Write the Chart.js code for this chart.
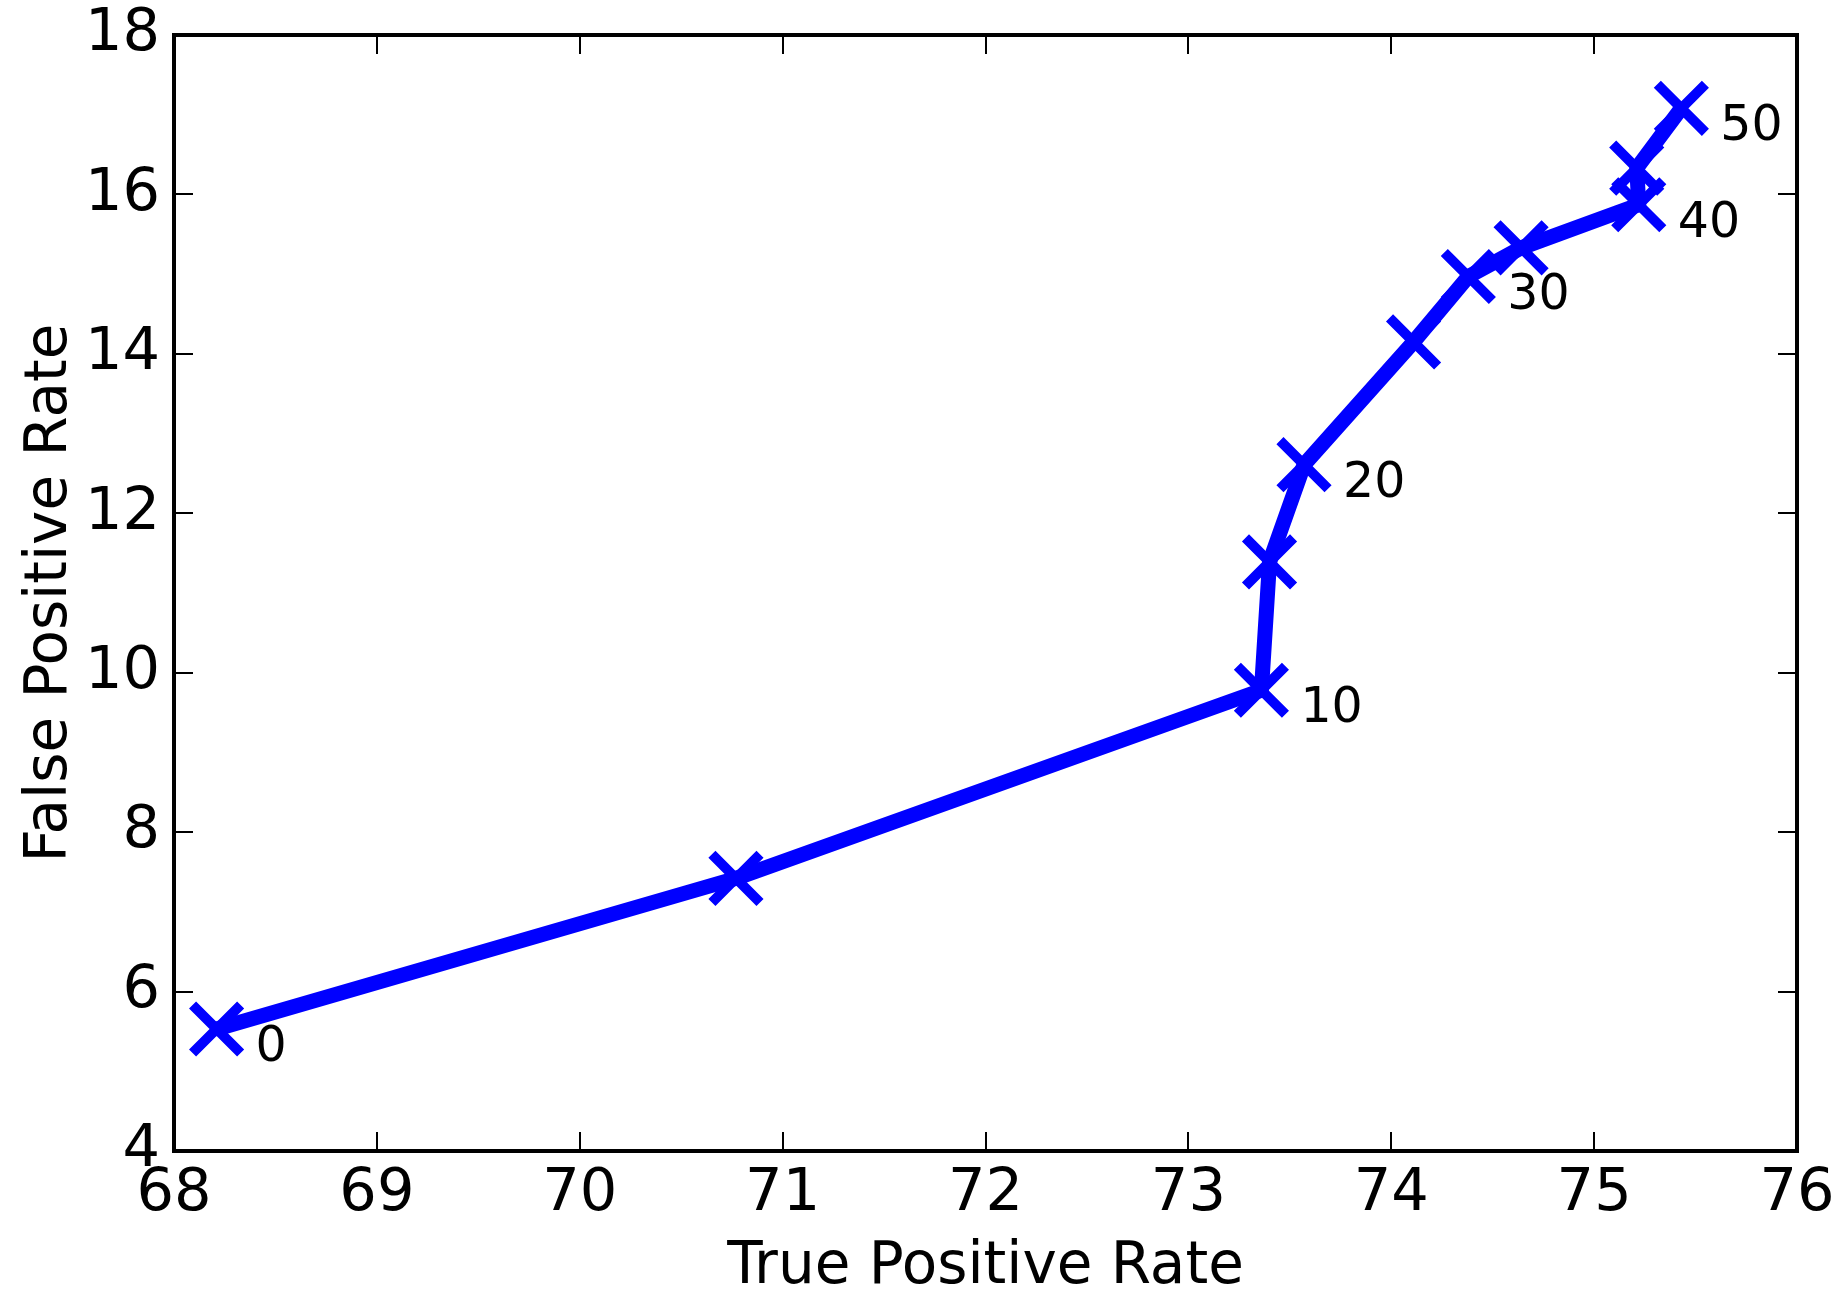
<!DOCTYPE html>
<html>
<head>
<meta charset="utf-8">
<script src="https://cdn.jsdelivr.net/npm/chart.js@4.4.1/dist/chart.umd.min.js"></script>
<style>
  html, body { margin: 0; padding: 0; background: #fff; }
</style>
</head>
<body>
<canvas id="roc" width="1848" height="1291"></canvas>
<script>
// one operating point per threshold
const thresholds = [0, 5, 10, 15, 20, 25, 30, 35, 40, 45, 50];
const truePositive = [68.21, 70.77, 73.36, 73.40, 73.57, 74.11, 74.38, 74.64, 75.22, 75.21, 75.43];
const falsePositive = [5.53, 7.42, 9.78, 11.39, 12.61, 14.15, 14.97, 15.33, 15.87, 16.33, 17.08];
// only these thresholds get a text label next to the marker
const labelledThresholds = [0, 10, 20, 30, 40, 50];

const xTicks = [68, 69, 70, 71, 72, 73, 74, 75, 76];
const yTicks = [4, 6, 8, 10, 12, 14, 16, 18];

const FONT = 'DejaVu Sans';

// matplotlib style box: full frame with inward ticks on every side
const frameAndTicks = {
    id: 'frameAndTicks',
    afterDatasetsDraw(chart) {
        const { ctx, chartArea: a, scales: { x, y } } = chart;
        ctx.save();
        ctx.strokeStyle = '#000';
        ctx.lineWidth = 2;
        ctx.beginPath();
        x.ticks.forEach(t => {
            const px = Math.round(x.getPixelForValue(t.value));
            ctx.moveTo(px, a.bottom);
            ctx.lineTo(px, a.bottom - 19);
            ctx.moveTo(px, a.top);
            ctx.lineTo(px, a.top + 19);
        });
        y.ticks.forEach(t => {
            const py = Math.round(y.getPixelForValue(t.value));
            ctx.moveTo(a.left, py);
            ctx.lineTo(a.left + 19, py);
            ctx.moveTo(a.right, py);
            ctx.lineTo(a.right - 19, py);
        });
        ctx.stroke();
        ctx.lineWidth = 4;
        ctx.strokeRect(a.left, a.top, a.right - a.left, a.bottom - a.top);
        ctx.restore();
    }
};

// threshold numbers beside every second marker
const thresholdLabels = {
    id: 'thresholdLabels',
    afterDatasetsDraw(chart) {
        const ctx = chart.ctx;
        const meta = chart.getDatasetMeta(0);
        ctx.save();
        ctx.font = '49px "' + FONT + '"';
        ctx.fillStyle = '#000';
        ctx.textAlign = 'left';
        ctx.textBaseline = 'alphabetic';
        meta.data.forEach((pt, i) => {
            if (!labelledThresholds.includes(thresholds[i])) return;
            ctx.fillText(String(thresholds[i]), pt.x + 39, pt.y + 32);
        });
        ctx.restore();
    }
};

const ctx = document.getElementById('roc').getContext('2d');
new Chart(ctx, {
    type: 'scatter',
    data: {
        datasets: [{
            data: truePositive.map((tp, i) => ({ x: tp, y: falsePositive[i] })),
            showLine: true,
            borderColor: '#0000ff',
            borderWidth: 15,
            borderJoinStyle: 'round',
            tension: 0,
            pointStyle: 'crossRot',
            pointRadius: 34,
            pointHoverRadius: 34,
            pointBorderWidth: 10,
            pointBorderColor: '#0000ff',
            pointBackgroundColor: '#0000ff',
            clip: false
        }]
    },
    options: {
        responsive: false,
        animation: false,
        events: [],
        layout: { autoPadding: false, padding: { top: 35, right: 51, left: 0, bottom: 0 } },
        plugins: {
            legend: { display: false },
            tooltip: { enabled: false }
        },
        scales: {
            x: {
                type: 'linear',
                min: 68,
                max: 76,
                afterBuildTicks: s => { s.ticks = xTicks.map(v => ({ value: v })); },
                afterFit: s => {
                    s.height = 140;
                    s.paddingLeft = 0;
                    s.paddingRight = 0;
                },
                grid: { display: false, drawTicks: false },
                border: { display: false },
                ticks: {
                    color: '#000',
                    padding: 8,
                    maxRotation: 0,
                    autoSkip: false,
                    font: { family: FONT, size: 59, lineHeight: 1.2 }
                },
                title: {
                    display: true,
                    text: 'True Positive Rate',
                    color: '#000',
                    padding: 0,
                    font: { family: FONT, size: 58, lineHeight: 0.8 }
                }
            },
            y: {
                type: 'linear',
                min: 4,
                max: 18,
                afterBuildTicks: s => { s.ticks = yTicks.map(v => ({ value: v })); },
                afterFit: s => {
                    s.width = 174;
                    s.paddingTop = 0;
                    s.paddingBottom = 0;
                },
                grid: { display: false, drawTicks: false },
                border: { display: false },
                ticks: {
                    color: '#000',
                    padding: 14,
                    autoSkip: false,
                    font: { family: FONT, size: 59, lineHeight: 0.5 }
                },
                title: {
                    display: true,
                    text: 'False Positive Rate',
                    color: '#000',
                    padding: { top: 22, bottom: 0 },
                    font: { family: FONT, size: 58, lineHeight: 1 }
                }
            }
        }
    },
    plugins: [frameAndTicks, thresholdLabels]
});
</script>
</body>
</html>
